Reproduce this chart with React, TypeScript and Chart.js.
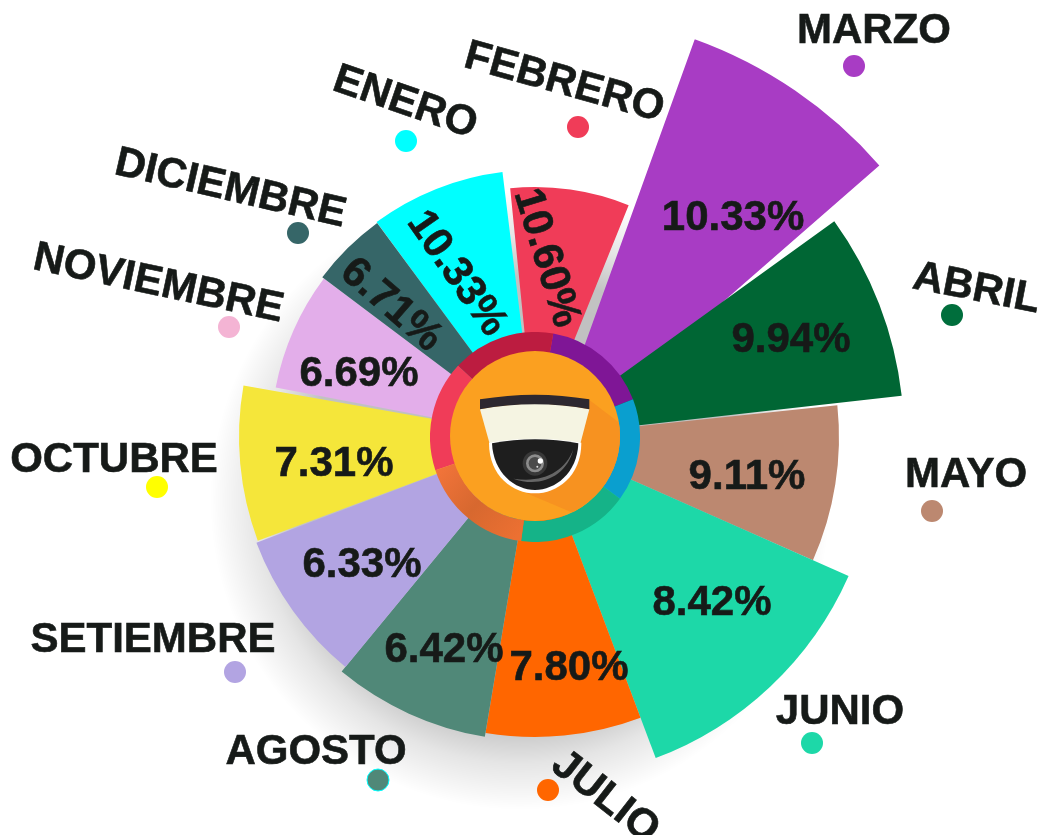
import React, { useEffect, useRef } from "react";
import { Chart, registerables } from "chart.js";

Chart.register(...registerables);

// ---- data ----
const months = ["ENERO", "FEBRERO", "MARZO", "ABRIL", "MAYO", "JUNIO", "JULIO", "AGOSTO", "SETIEMBRE", "OCTUBRE", "NOVIEMBRE", "DICIEMBRE"];
const percents = ["10.33%", "10.60%", "10.33%", "9.94%", "9.11%", "8.42%", "7.80%", "6.42%", "6.33%", "7.31%", "6.69%", "6.71%"];
const sectorLength = [267, 250, 445, 369, 304, 343, 300, 304, 298, 296, 264, 266];
const sectorFrom = [323.6, 354.3, 19.8, 54.2, 84, 113.9, 159.4, 189.5, 219.5, 249.5, 280.8, 306.9];
const sectorTo = [353, 382, 48.9, 83.6, 113.9, 159.4, 189.5, 219.5, 249.2, 280, 306.9, 323.6];
const ringValues = [59, 57, 61.6, 64, 61.4, 57];

// ---- styles and layout ----
const sectorShift = [[0, 0], [0, 0], [9, 21], [0, 0], [0, 0], [0, 0], [0, 0], [0, 0], [0, 0], [0, 0], [0, 0], [0, 0]];
const sectorColors = ["#00ffff", "#f03c58", "#a83cc4", "#006634", "#bc8870", "#1dd8a8", "#ff6600", "#508878", "#b2a4e2", "#f5e63a", "#e3aeea", "#366668"];
const dotColors = ["#00ffff", "#f03c58", "#a83cc4", "#006e3c", "#bc8870", "#1dd8a8", "#ff6600", "#508878", "#b2a4e2", "#ffff00", "#f4b4d4", "#366668"];
const ringColors = ["#7f1696", "#0a9fcf", "#15b388", "#e96f30", "#f03c58", "#bc1c40"];
const monthPos = [[406, 100, 19], [565, 80, 15.5], [874, 28, 0], [977, 286, 11], [966, 472, 0], [840, 709, 0], [607, 795, 38], [316, 749, 0], [153, 637, 0], [114, 457, 0], [159, 281, 12], [231, 186, 13]];
const percentPos = [[459, 272, 55], [549, 257, 73], [733, 215, 0], [791, 337, 0], [747, 474, 0], [712, 600, 0], [569, 665, 0], [444, 647, 0], [362, 562, 0], [334, 461, 0], [359, 371, 0], [393, 303, 41]];
const dotPos = [[406, 141], [578, 127], [854, 66], [952, 315], [932, 511], [812, 743], [548, 790], [378, 780], [235, 672], [157, 487], [229, 327], [298, 233]];
const FONT = 'bold 42px "Liberation Sans", Arial, sans-serif';
const TEXT = "#161a18";

const shadowPlugin = {
  id: "discShadow",
  beforeDatasetsDraw(chart: any) {
    const ctx = chart.ctx;
    const g = ctx.createRadialGradient(520, 500, 0, 520, 500, 310);
    g.addColorStop(0, "rgba(0,0,0,0.26)");
    g.addColorStop(0.72, "rgba(0,0,0,0.24)");
    g.addColorStop(0.85, "rgba(0,0,0,0.1)");
    g.addColorStop(1, "rgba(0,0,0,0)");
    ctx.save();
    ctx.fillStyle = g;
    ctx.beginPath();
    ctx.arc(520, 500, 310, 0, Math.PI * 2);
    ctx.fill();
    ctx.restore();
  },
};

const rad = (deg: number) => ((deg - 90) * Math.PI) / 180;

const sectorPlugin = {
  id: "sectorPlacement",
  afterDatasetsUpdate(chart: any) {
    chart.getDatasetMeta(0).data.forEach((el: any, i: number) => {
      el.startAngle = rad(sectorFrom[i]);
      el.endAngle = rad(sectorTo[i]);
      el.x += sectorShift[i][0];
      el.y += sectorShift[i][1];
    });
  },
};

function drawRotated(ctx: any, s: string, p: number[]) {
  ctx.save();
  ctx.translate(p[0], p[1]);
  ctx.rotate((p[2] * Math.PI) / 180);
  ctx.strokeText(s, 0, 3);
  ctx.fillText(s, 0, 3);
  ctx.restore();
}

const labelPlugin = {
  id: "monthLabels",
  afterDatasetsDraw(chart: any) {
    const ctx = chart.ctx;
    ctx.save();
    ctx.font = FONT;
    ctx.fillStyle = TEXT;
    ctx.strokeStyle = TEXT;
    ctx.lineWidth = 0.6;
    ctx.textAlign = "center";
    ctx.textBaseline = "middle";
    months.forEach((m, i) => drawRotated(ctx, m, monthPos[i]));
    percents.forEach((s, i) => drawRotated(ctx, s, percentPos[i]));
    dotPos.forEach((p, i) => {
      ctx.beginPath();
      ctx.arc(p[0], p[1], 11, 0, Math.PI * 2);
      ctx.fillStyle = dotColors[i];
      ctx.fill();
      if (months[i] === "AGOSTO") {
        ctx.strokeStyle = "#00ffff";
        ctx.lineWidth = 1;
        ctx.stroke();
      }
    });
    ctx.restore();
  },
};

// camera emblem, in coordinates of a 3x view of the hub
const hubPlugin = {
  id: "hub",
  afterDatasetsDraw(chart: any) {
    const c = chart.ctx;
    c.save();
    c.translate(-10, -12);
    c.scale(1 / 3, 1 / 3);
    const shape = (f: () => void, color: string) => {
      c.beginPath();
      f();
      c.closePath();
      c.fillStyle = color;
      c.fill();
    };
    shape(() => c.arc(345, 348, 255, 0, Math.PI * 2), "#fba020");
    c.save();
    c.beginPath();
    c.arc(345, 348, 255, 0, Math.PI * 2);
    c.clip();
    shape(() => {
      c.moveTo(508, 240);
      c.lineTo(640, 340);
      c.lineTo(610, 500);
      c.lineTo(458, 578);
      c.lineTo(320, 520);
      c.lineTo(345, 300);
    }, "#f79220");
    c.restore();
    shape(() => {
      c.moveTo(180, 268);
      c.quadraticCurveTo(345, 235, 508, 268);
      c.lineTo(480, 375);
      c.lineTo(210, 375);
    }, "#f5f4e2");
    shape(() => {
      c.moveTo(180, 238);
      c.quadraticCurveTo(345, 210, 508, 238);
      c.lineTo(508, 268);
      c.quadraticCurveTo(345, 238, 180, 268);
    }, "#2d2830");
    shape(() => {
      c.moveTo(207, 368);
      c.bezierCurveTo(207, 470, 280, 520, 345, 520);
      c.bezierCurveTo(410, 520, 484, 470, 484, 368);
      c.quadraticCurveTo(345, 345, 207, 368);
    }, "#ffffff");
    shape(() => {
      c.moveTo(216, 370);
      c.bezierCurveTo(220, 460, 285, 510, 345, 510);
      c.bezierCurveTo(405, 510, 472, 460, 475, 370);
      c.quadraticCurveTo(345, 345, 216, 370);
    }, "#1e1e1e");
    shape(() => {
      c.moveTo(280, 476);
      c.bezierCurveTo(360, 505, 440, 470, 460, 388);
      c.bezierCurveTo(435, 455, 370, 490, 280, 476);
    }, "#666666");
    shape(() => c.arc(345, 430, 37, 0, Math.PI * 2), "#383838");
    shape(() => c.arc(345, 430, 27, 0, Math.PI * 2), "#8c8c8c");
    shape(() => c.arc(345, 430, 19, 0, Math.PI * 2), "#4a4a4a");
    shape(() => c.arc(361, 423, 8, 0, Math.PI * 2), "#ffffff");
    shape(() => c.arc(352, 440, 3, 0, Math.PI * 2), "#dddddd");
    c.restore();
  },
};

export default function App() {
  const mainRef = useRef<HTMLCanvasElement>(null);
  const hubRef = useRef<HTMLCanvasElement>(null);

  useEffect(() => {
    const main = new Chart(mainRef.current as any, {
      type: "polarArea",
      data: {
        labels: months,
        datasets: [
          {
            data: sectorLength,
            backgroundColor: sectorColors,
            borderWidth: 0,
            angle: (c: any) => sectorTo[c.dataIndex] - sectorFrom[c.dataIndex],
          } as any,
        ],
      },
      options: {
        animation: false,
        responsive: false,
        events: [],
        scales: {
          r: { display: false, min: 0, max: 437, startAngle: 323.6 } as any,
        },
        plugins: { legend: { display: false }, tooltip: { enabled: false } },
      },
      plugins: [sectorPlugin, shadowPlugin, labelPlugin],
    } as any);

    const hubCtx = (hubRef.current as any).getContext("2d");
    const orange = hubCtx.createLinearGradient(7, 138, 87, 205);
    orange.addColorStop(0, "#f2743a");
    orange.addColorStop(0.5, "#d7682f");
    orange.addColorStop(1, "#ec7032");
    const hub = new Chart(hubRef.current as any, {
      type: "doughnut",
      data: {
        labels: ["a", "b", "c", "d", "e", "f"],
        datasets: [
          {
            data: ringValues,
            backgroundColor: ringColors.map((col, i) => (i === 3 ? orange : col)),
            borderWidth: 0,
          },
        ],
      },
      options: {
        animation: false,
        responsive: false,
        events: [],
        rotation: 10,
        cutout: "80%",
        plugins: { legend: { display: false }, tooltip: { enabled: false } },
      },
      plugins: [hubPlugin],
    } as any);
    return () => {
      main.destroy();
      hub.destroy();
    };
  }, []);

  return (
    <div style={{ position: "fixed", left: 0, top: 0, width: 1042, height: 835, overflow: "hidden", background: "#fff" }}>
      <canvas ref={mainRef} width={1070} height={874} style={{ position: "absolute", left: 0, top: 0, width: 1070, height: 874 }} />
      <canvas ref={hubRef} width={210} height={210} style={{ position: "absolute", left: 430, top: 332, width: 210, height: 210 }} />
    </div>
  );
}
